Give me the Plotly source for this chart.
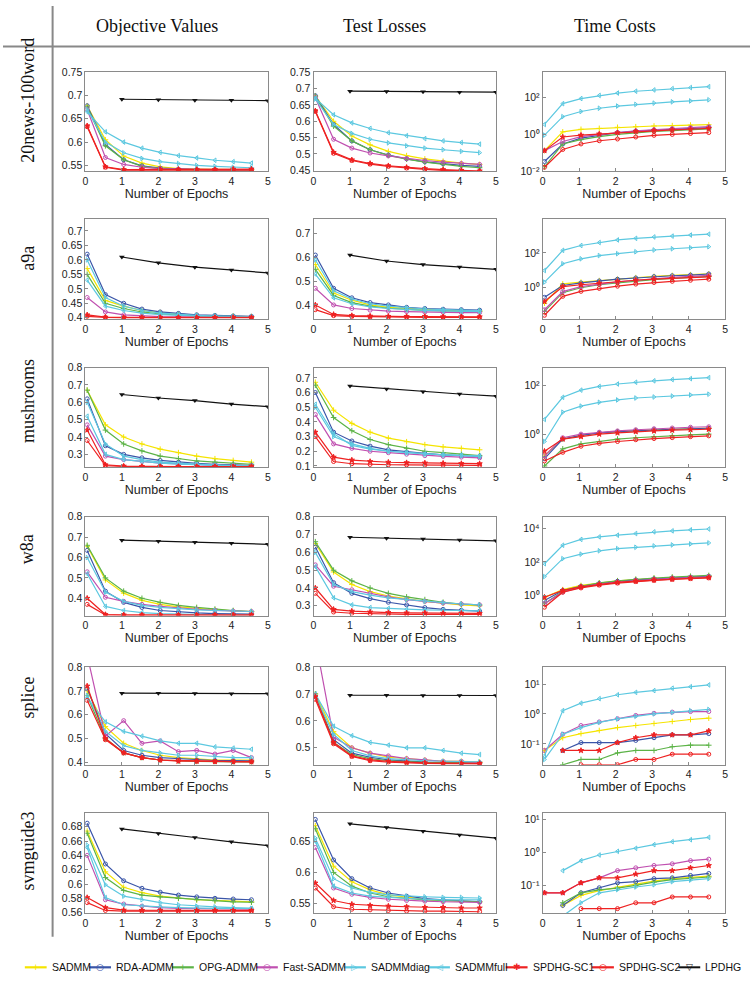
import plotly.graph_objects as go

W, H = 753, 999

# ---------------- data ----------------
epochs = [0.05, 0.55, 1.05, 1.55, 2.05, 2.55, 3.05, 3.55, 4.05, 4.55]
lp_epochs = [1, 2, 3, 4, 5]

methods = ["SADMM", "RDA-ADMM", "OPG-ADMM", "Fast-SADMM", "SADMMdiag",
           "SADMMfull", "SPDHG-SC1", "SPDHG-SC2", "LPDHG"]
colors = ["#f5e400", "#3a55a8", "#5cb347", "#c050b0", "#5cc8e0",
          "#5cc8e0", "#ee2222", "#ee2222", "#111111"]
symbols = ["cross-thin-open", "circle-open", "cross-thin-open", "circle-open",
           "triangle-right-open", "triangle-left-open", "star", "circle-open",
           "triangle-down"]
datasets = ["20news-100word", "a9a", "mushrooms", "w8a", "splice", "svmguide3"]
columns = ["Objective Values", "Test Losses", "Time Costs"]

# order of each panel list: SADMM, RDA, OPG, Fast, diag, full, SC1, SC2
obj_20news = [
    [0.678, 0.605, 0.570, 0.555, 0.547, 0.543, 0.542, 0.541, 0.541, 0.541],
    [0.678, 0.595, 0.562, 0.549, 0.544, 0.542, 0.541, 0.541, 0.541, 0.541],
    [0.675, 0.592, 0.562, 0.548, 0.543, 0.541, 0.541, 0.541, 0.541, 0.541],
    [0.670, 0.567, 0.552, 0.546, 0.543, 0.542, 0.541, 0.541, 0.541, 0.541],
    [0.670, 0.600, 0.577, 0.565, 0.558, 0.554, 0.550, 0.548, 0.546, 0.545],
    [0.665, 0.622, 0.600, 0.587, 0.578, 0.571, 0.566, 0.561, 0.558, 0.555],
    [0.635, 0.547, 0.541, 0.541, 0.541, 0.541, 0.541, 0.541, 0.542, 0.542],
    [0.633, 0.546, 0.540, 0.540, 0.540, 0.540, 0.540, 0.540, 0.540, 0.540],
]
lp_obj_20news = [0.692, 0.691, 0.690, 0.690, 0.689]
loss_20news = [
    [0.678, 0.600, 0.555, 0.528, 0.508, 0.495, 0.485, 0.478, 0.472, 0.468],
    [0.678, 0.590, 0.540, 0.513, 0.497, 0.485, 0.476, 0.470, 0.465, 0.462],
    [0.675, 0.585, 0.540, 0.513, 0.496, 0.484, 0.475, 0.468, 0.462, 0.458],
    [0.672, 0.545, 0.518, 0.503, 0.494, 0.486, 0.480, 0.475, 0.471, 0.468],
    [0.668, 0.590, 0.563, 0.545, 0.534, 0.525, 0.518, 0.513, 0.508, 0.504],
    [0.670, 0.620, 0.595, 0.578, 0.565, 0.556, 0.547, 0.540, 0.535, 0.530],
    [0.632, 0.505, 0.482, 0.471, 0.464, 0.459, 0.455, 0.452, 0.450, 0.448],
    [0.630, 0.502, 0.480, 0.469, 0.462, 0.457, 0.453, 0.450, 0.448, 0.447],
]
lp_loss_20news = [0.692, 0.691, 0.690, 0.689, 0.689]
time_20news = [
    [0.13, 1.38, 1.90, 2.14, 2.45, 2.63, 2.88, 3.02, 3.24, 3.39],
    [0.033, 0.30, 0.62, 0.91, 1.23, 1.51, 1.70, 1.91, 2.14, 2.34],
    [0.017, 0.30, 0.52, 0.76, 1.00, 1.23, 1.45, 1.62, 1.82, 2.00],
    [0.13, 0.41, 0.76, 1.00, 1.26, 1.55, 1.82, 2.09, 2.34, 2.63],
    [0.91, 9.3, 17.8, 26.9, 35.5, 43.7, 51.3, 60.3, 67.6, 77.6],
    [3.5, 48, 91, 135, 182, 229, 269, 316, 363, 407],
    [0.13, 0.72, 0.91, 1.05, 1.23, 1.45, 1.62, 1.78, 1.91, 2.14],
    [0.016, 0.15, 0.30, 0.45, 0.56, 0.72, 0.89, 1.00, 1.12, 1.26],
]

obj_a9a = [
    [0.570, 0.460, 0.440, 0.425, 0.418, 0.412, 0.408, 0.406, 0.405, 0.404],
    [0.620, 0.480, 0.450, 0.430, 0.420, 0.415, 0.410, 0.408, 0.406, 0.405],
    [0.550, 0.450, 0.432, 0.420, 0.413, 0.409, 0.406, 0.405, 0.404, 0.403],
    [0.470, 0.420, 0.410, 0.406, 0.404, 0.403, 0.402, 0.402, 0.402, 0.402],
    [0.600, 0.470, 0.440, 0.425, 0.416, 0.411, 0.408, 0.406, 0.405, 0.404],
    [0.530, 0.440, 0.425, 0.416, 0.411, 0.408, 0.406, 0.405, 0.404, 0.403],
    [0.410, 0.402, 0.401, 0.401, 0.401, 0.401, 0.401, 0.401, 0.401, 0.401],
    [0.405, 0.401, 0.400, 0.400, 0.400, 0.400, 0.400, 0.400, 0.400, 0.400],
]
lp_obj_a9a = [0.610, 0.590, 0.575, 0.565, 0.555]
loss_a9a = [
    [0.570, 0.450, 0.420, 0.400, 0.390, 0.385, 0.380, 0.378, 0.376, 0.375],
    [0.610, 0.470, 0.430, 0.410, 0.400, 0.390, 0.385, 0.382, 0.380, 0.378],
    [0.550, 0.440, 0.410, 0.395, 0.386, 0.380, 0.377, 0.375, 0.374, 0.373],
    [0.470, 0.400, 0.385, 0.378, 0.374, 0.372, 0.370, 0.369, 0.368, 0.368],
    [0.590, 0.460, 0.425, 0.405, 0.395, 0.388, 0.383, 0.380, 0.378, 0.376],
    [0.530, 0.430, 0.405, 0.392, 0.385, 0.380, 0.377, 0.375, 0.373, 0.372],
    [0.400, 0.360, 0.355, 0.353, 0.352, 0.351, 0.351, 0.350, 0.350, 0.350],
    [0.380, 0.355, 0.352, 0.350, 0.349, 0.349, 0.348, 0.348, 0.348, 0.348],
]
lp_loss_a9a = [0.610, 0.585, 0.570, 0.560, 0.550]
time_a9a = [
    [0.13, 1.66, 2.09, 2.57, 3.09, 3.80, 4.47, 5.13, 5.62, 6.31],
    [0.28, 1.35, 1.90, 2.45, 3.09, 3.63, 4.37, 4.90, 5.37, 6.17],
    [0.044, 0.52, 1.00, 1.48, 1.90, 2.45, 2.95, 3.47, 3.98, 4.47],
    [0.054, 0.60, 1.15, 1.62, 2.19, 2.69, 3.31, 3.98, 4.47, 5.13],
    [2.1, 24, 46, 71, 91, 117, 148, 174, 200, 229],
    [9.8, 141, 269, 398, 562, 692, 832, 933, 1072, 1202],
    [0.16, 1.15, 1.48, 1.82, 2.29, 2.69, 3.09, 3.47, 3.80, 4.17],
    [0.026, 0.32, 0.62, 0.91, 1.23, 1.62, 2.00, 2.34, 2.69, 3.09],
]

obj_mush = [
    [0.670, 0.470, 0.400, 0.360, 0.330, 0.310, 0.290, 0.275, 0.265, 0.255],
    [0.620, 0.350, 0.300, 0.280, 0.265, 0.255, 0.248, 0.243, 0.240, 0.237],
    [0.670, 0.440, 0.360, 0.320, 0.290, 0.275, 0.262, 0.255, 0.248, 0.243],
    [0.470, 0.290, 0.270, 0.260, 0.250, 0.245, 0.240, 0.237, 0.235, 0.233],
    [0.600, 0.360, 0.290, 0.270, 0.255, 0.248, 0.242, 0.238, 0.235, 0.233],
    [0.520, 0.300, 0.270, 0.258, 0.250, 0.244, 0.240, 0.237, 0.235, 0.233],
    [0.440, 0.240, 0.232, 0.230, 0.230, 0.230, 0.230, 0.230, 0.230, 0.230],
    [0.380, 0.235, 0.230, 0.229, 0.229, 0.229, 0.229, 0.229, 0.229, 0.229],
]
lp_obj_mush = [0.645, 0.625, 0.610, 0.590, 0.575]
loss_mush = [
    [0.670, 0.480, 0.390, 0.330, 0.290, 0.265, 0.245, 0.230, 0.220, 0.210],
    [0.600, 0.330, 0.270, 0.235, 0.210, 0.195, 0.185, 0.175, 0.170, 0.165],
    [0.650, 0.430, 0.340, 0.280, 0.245, 0.220, 0.200, 0.190, 0.180, 0.170],
    [0.450, 0.250, 0.220, 0.200, 0.190, 0.180, 0.170, 0.165, 0.160, 0.155],
    [0.500, 0.300, 0.250, 0.220, 0.200, 0.190, 0.180, 0.175, 0.170, 0.165],
    [0.520, 0.320, 0.240, 0.215, 0.200, 0.190, 0.182, 0.176, 0.172, 0.168],
    [0.330, 0.160, 0.140, 0.130, 0.125, 0.122, 0.120, 0.118, 0.116, 0.115],
    [0.300, 0.130, 0.115, 0.110, 0.108, 0.107, 0.106, 0.105, 0.105, 0.104],
]
lp_loss_mush = [0.645, 0.625, 0.605, 0.590, 0.575]
time_mush = [
    [0.13, 0.63, 0.89, 1.12, 1.26, 1.41, 1.51, 1.58, 1.70, 1.78],
    [0.10, 0.63, 0.89, 1.12, 1.26, 1.38, 1.51, 1.58, 1.66, 1.74],
    [0.05, 0.25, 0.40, 0.50, 0.63, 0.71, 0.79, 0.87, 0.93, 1.00],
    [0.13, 0.71, 1.00, 1.20, 1.35, 1.51, 1.66, 1.78, 1.91, 2.00],
    [0.50, 7.9, 14, 20, 25, 30, 33, 36, 40, 43],
    [4.0, 32, 63, 89, 112, 132, 151, 170, 186, 204],
    [0.20, 0.63, 0.79, 1.00, 1.12, 1.26, 1.35, 1.45, 1.51, 1.58],
    [0.08, 0.18, 0.32, 0.42, 0.50, 0.59, 0.66, 0.72, 0.79, 0.85],
]

obj_w8a = [
    [0.655, 0.490, 0.425, 0.390, 0.370, 0.358, 0.350, 0.343, 0.338, 0.334],
    [0.635, 0.435, 0.380, 0.355, 0.340, 0.333, 0.328, 0.325, 0.323, 0.322],
    [0.660, 0.500, 0.435, 0.400, 0.380, 0.365, 0.355, 0.347, 0.340, 0.335],
    [0.530, 0.405, 0.385, 0.370, 0.360, 0.352, 0.346, 0.341, 0.337, 0.335],
    [0.600, 0.430, 0.385, 0.365, 0.355, 0.348, 0.343, 0.340, 0.337, 0.335],
    [0.520, 0.360, 0.340, 0.330, 0.325, 0.322, 0.320, 0.319, 0.318, 0.318],
    [0.400, 0.320, 0.318, 0.318, 0.318, 0.318, 0.318, 0.318, 0.318, 0.318],
    [0.370, 0.318, 0.317, 0.317, 0.317, 0.317, 0.317, 0.317, 0.317, 0.317],
]
lp_obj_w8a = [0.685, 0.680, 0.675, 0.670, 0.665]
loss_w8a = [
    [0.650, 0.490, 0.420, 0.380, 0.355, 0.340, 0.325, 0.315, 0.305, 0.300],
    [0.630, 0.430, 0.370, 0.340, 0.320, 0.305, 0.290, 0.280, 0.275, 0.270],
    [0.660, 0.500, 0.440, 0.400, 0.370, 0.350, 0.335, 0.320, 0.310, 0.305],
    [0.530, 0.410, 0.390, 0.370, 0.350, 0.335, 0.325, 0.315, 0.310, 0.305],
    [0.600, 0.420, 0.380, 0.360, 0.345, 0.335, 0.325, 0.318, 0.310, 0.305],
    [0.520, 0.345, 0.305, 0.290, 0.285, 0.280, 0.277, 0.275, 0.273, 0.272],
    [0.400, 0.280, 0.270, 0.265, 0.262, 0.260, 0.260, 0.258, 0.258, 0.257],
    [0.370, 0.265, 0.258, 0.255, 0.253, 0.252, 0.252, 0.251, 0.251, 0.251],
]
lp_loss_w8a = [0.685, 0.680, 0.675, 0.670, 0.665]
time_w8a = [
    [0.79, 2.24, 3.98, 5.62, 7.59, 8.91, 10.5, 12.0, 13.2, 14.5],
    [0.50, 2.00, 3.55, 5.25, 7.08, 8.51, 10.0, 11.2, 12.6, 14.1],
    [0.32, 1.78, 3.55, 5.62, 7.59, 9.33, 11.0, 12.6, 14.1, 15.8],
    [0.32, 1.58, 3.16, 4.79, 6.31, 7.94, 9.33, 10.7, 12.0, 13.2],
    [13.5, 158, 295, 468, 631, 759, 912, 1047, 1202, 1380],
    [79, 1000, 2239, 3162, 3981, 5012, 6310, 7244, 8318, 9333],
    [0.79, 2.00, 3.31, 4.57, 6.03, 7.24, 8.51, 9.55, 10.7, 11.7],
    [0.20, 1.58, 2.82, 4.17, 5.50, 6.76, 7.94, 9.12, 10.2, 11.2],
]

obj_splice = [
    [0.700, 0.550, 0.480, 0.450, 0.430, 0.420, 0.415, 0.410, 0.410, 0.410],
    [0.710, 0.520, 0.450, 0.430, 0.420, 0.415, 0.410, 0.408, 0.407, 0.406],
    [0.680, 0.500, 0.440, 0.420, 0.410, 0.406, 0.404, 0.403, 0.402, 0.402],
    [0.850, 0.510, 0.575, 0.480, 0.490, 0.445, 0.450, 0.435, 0.450, 0.420],
    [0.680, 0.530, 0.470, 0.450, 0.440, 0.430, 0.430, 0.425, 0.420, 0.420],
    [0.670, 0.570, 0.530, 0.510, 0.490, 0.480, 0.480, 0.465, 0.460, 0.455],
    [0.720, 0.500, 0.440, 0.420, 0.410, 0.405, 0.405, 0.403, 0.402, 0.402],
    [0.660, 0.495, 0.440, 0.420, 0.410, 0.408, 0.405, 0.404, 0.403, 0.403],
]
lp_obj_splice = [0.690, 0.690, 0.689, 0.688, 0.688]
loss_splice = [
    [0.700, 0.560, 0.500, 0.480, 0.465, 0.460, 0.455, 0.450, 0.450, 0.448],
    [0.690, 0.530, 0.480, 0.465, 0.455, 0.450, 0.447, 0.445, 0.444, 0.443],
    [0.700, 0.520, 0.475, 0.460, 0.452, 0.448, 0.446, 0.445, 0.444, 0.443],
    [0.900, 0.540, 0.500, 0.480, 0.470, 0.460, 0.455, 0.450, 0.450, 0.445],
    [0.690, 0.550, 0.490, 0.470, 0.460, 0.455, 0.452, 0.450, 0.449, 0.448],
    [0.700, 0.580, 0.545, 0.520, 0.510, 0.500, 0.500, 0.490, 0.480, 0.475],
    [0.690, 0.520, 0.470, 0.455, 0.450, 0.446, 0.444, 0.443, 0.442, 0.442],
    [0.680, 0.515, 0.468, 0.452, 0.447, 0.444, 0.442, 0.441, 0.441, 0.440],
]
lp_loss_splice = [0.695, 0.695, 0.694, 0.694, 0.694]
time_splice = [
    [0.06, 0.16, 0.22, 0.28, 0.35, 0.41, 0.48, 0.56, 0.65, 0.72],
    [None, 0.06, 0.11, 0.11, 0.11, 0.13, 0.16, 0.20, 0.20, 0.22],
    [None, 0.02, 0.03, 0.03, 0.05, 0.06, 0.06, 0.08, 0.09, 0.09],
    [0.06, 0.21, 0.41, 0.54, 0.69, 0.89, 1.05, 1.15, 1.20, 1.20],
    [0.03, 0.21, 0.35, 0.52, 0.68, 0.83, 1.00, 1.12, 1.29, 1.41],
    [0.04, 1.29, 2.29, 3.24, 4.37, 5.25, 6.03, 7.24, 8.13, 9.33],
    [None, 0.06, 0.06, 0.06, 0.11, 0.16, 0.20, 0.20, 0.20, 0.27],
    [None, None, 0.02, 0.02, 0.02, 0.03, 0.03, 0.045, 0.045, 0.045],
]

obj_svm = [
    [0.674, 0.617, 0.5955, 0.588, 0.583, 0.580, 0.578, 0.577, 0.576, 0.575],
    [0.685, 0.628, 0.6045, 0.594, 0.5886, 0.5845, 0.582, 0.580, 0.579, 0.578],
    [0.671, 0.609, 0.591, 0.5845, 0.582, 0.580, 0.578, 0.5765, 0.575, 0.5745],
    [0.640, 0.578, 0.572, 0.569, 0.567, 0.566, 0.5655, 0.565, 0.565, 0.565],
    [0.6545, 0.599, 0.583, 0.578, 0.574, 0.571, 0.569, 0.568, 0.567, 0.566],
    [0.651, 0.581, 0.571, 0.569, 0.568, 0.567, 0.566, 0.566, 0.566, 0.566],
    [0.581, 0.567, 0.5635, 0.5632, 0.563, 0.563, 0.563, 0.563, 0.563, 0.563],
    [0.574, 0.563, 0.562, 0.562, 0.562, 0.562, 0.562, 0.562, 0.562, 0.562],
]
lp_obj_svm = [0.677, 0.6705, 0.665, 0.659, 0.6536]
loss_svm = [
    [0.675, 0.610, 0.585, 0.572, 0.564, 0.560, 0.557, 0.555, 0.554, 0.553],
    [0.685, 0.620, 0.590, 0.575, 0.567, 0.562, 0.558, 0.556, 0.554, 0.553],
    [0.670, 0.600, 0.578, 0.567, 0.561, 0.558, 0.556, 0.555, 0.554, 0.553],
    [0.640, 0.575, 0.565, 0.560, 0.557, 0.555, 0.554, 0.553, 0.553, 0.552],
    [0.655, 0.590, 0.575, 0.568, 0.564, 0.562, 0.561, 0.560, 0.560, 0.559],
    [0.650, 0.578, 0.567, 0.562, 0.560, 0.558, 0.557, 0.556, 0.556, 0.556],
    [0.583, 0.555, 0.549, 0.547, 0.546, 0.545, 0.544, 0.544, 0.543, 0.543],
    [0.575, 0.545, 0.541, 0.540, 0.539, 0.538, 0.538, 0.538, 0.537, 0.537],
]
lp_loss_svm = [0.678, 0.672, 0.666, 0.660, 0.655]
time_svm = [
    [None, 0.025, 0.05, 0.07, 0.09, 0.11, 0.135, 0.16, 0.175, 0.19],
    [None, 0.025, 0.06, 0.085, 0.12, 0.13, 0.16, 0.17, 0.20, 0.23],
    [None, 0.03, 0.06, 0.074, 0.083, 0.10, 0.126, 0.15, 0.166, 0.18],
    [0.06, 0.06, 0.12, 0.17, 0.28, 0.34, 0.40, 0.45, 0.56, 0.62],
    [None, 0.012, 0.03, 0.06, 0.075, 0.09, 0.105, 0.13, 0.145, 0.16],
    [None, 0.28, 0.56, 0.83, 1.07, 1.32, 1.70, 2.09, 2.40, 2.82],
    [0.06, 0.06, 0.12, 0.17, 0.17, 0.22, 0.28, 0.28, 0.34, 0.40],
    [None, None, 0.02, 0.02, 0.02, 0.03, 0.03, 0.045, 0.045, 0.045],
]

# per-row panels: (objective, lpdhg objective, loss, lpdhg loss, time)
rows = [
    (obj_20news, lp_obj_20news, loss_20news, lp_loss_20news, time_20news),
    (obj_a9a, lp_obj_a9a, loss_a9a, lp_loss_a9a, time_a9a),
    (obj_mush, lp_obj_mush, loss_mush, lp_loss_mush, time_mush),
    (obj_w8a, lp_obj_w8a, loss_w8a, lp_loss_w8a, time_w8a),
    (obj_splice, lp_obj_splice, loss_splice, lp_loss_splice, time_splice),
    (obj_svm, lp_obj_svm, loss_svm, lp_loss_svm, time_svm),
]

# axis settings (y ranges; log ranges in decades)
y_ranges = [
    ([0.538, 0.75], 0.05, [0.448, 0.75], 0.05, [-2, 3.4], [0.01, 1, 100]),
    ([0.395, 0.74], 0.05, [0.34, 0.76], 0.1, [-1.81, 3.93], [1, 100]),
    ([0.225, 0.8], 0.1, [0.09, 0.77], 0.1, [-1.36, 2.72], [1, 100]),
    ([0.315, 0.8], 0.1, [0.245, 0.8], 0.1, [-1.2, 4.7], [1, 100, 10000]),
    ([0.39, 0.8], 0.1, [0.437, 0.8], 0.1, [-1.7, 1.57], [0.1, 1, 10]),
    ([0.5595, 0.699], 0.02, [0.535, 0.695], 0.05, [-1.83, 1.18], [0.1, 1, 10]),
]
pow_text = {0.01: "10\u207b\u00b2", 0.1: "10\u207b\u00b9", 1: "10\u2070",
            10: "10\u00b9", 100: "10\u00b2", 10000: "10\u2074"}

# ---------------- layout geometry (pixels) ----------------
col_px = [(83, 267), (313, 497), (544, 728)]
row_px = [(67, 167), (216, 317), (366, 467), (517, 617), (669, 768), (817, 918)]

fig = go.Figure()
layout = {}
SANS = "Liberation Sans, Arial, sans-serif"
TICKFONT = dict(family=SANS, size=10.5, color="#222")
AXCOL = "#8a8a8a"

for r in range(6):
    obj, lp_obj, loss, lp_loss, tcost = rows[r]
    yr = y_ranges[r]
    for c in range(3):
        idx = r * 3 + c + 1
        sfx = "" if idx == 1 else str(idx)
        xname, yname = "x" + sfx, "y" + sfx
        x0, x1 = col_px[c]
        t0, t1 = row_px[r]
        xa = dict(domain=[x0 / W, x1 / W], anchor=yname, range=[0, 5],
                  tickvals=[0, 1, 2, 3, 4, 5], showline=True, mirror=True,
                  linecolor=AXCOL, linewidth=1, ticks="inside", ticklen=3,
                  tickcolor=AXCOL, showgrid=False, zeroline=False,
                  tickfont=TICKFONT,
                  title=dict(text="Number of Epochs", standoff=2,
                             font=dict(family=SANS, size=12.5, color="#222")))
        ya = dict(domain=[1 - t1 / H, 1 - t0 / H], anchor=xname,
                  showline=True, mirror=True, linecolor=AXCOL, linewidth=1,
                  ticks="inside", ticklen=3, tickcolor=AXCOL, showgrid=False,
                  zeroline=False, tickfont=TICKFONT)
        if c == 0:
            ya.update(range=yr[0], dtick=yr[1], tick0=0)
            series, lp = obj, lp_obj
        elif c == 1:
            ya.update(range=yr[2], dtick=yr[3], tick0=0)
            series, lp = loss, lp_loss
        else:
            ya.update(type="log", range=yr[4], tickvals=yr[5],
                      ticktext=[pow_text[v] for v in yr[5]])
            series, lp = tcost, None
        layout["xaxis" + sfx] = xa
        layout["yaxis" + sfx] = ya
        for k, vals in enumerate(series):
            fig.add_trace(go.Scatter(
                x=epochs, y=vals, mode="lines+markers", name=methods[k],
                xaxis=xname, yaxis=yname, showlegend=False,
                line=dict(color=colors[k], width=1.2),
                marker=dict(symbol=symbols[k], size=4, color=colors[k],
                            line=dict(color=colors[k], width=1))))
        if lp is not None:
            fig.add_trace(go.Scatter(
                x=lp_epochs, y=lp, mode="lines+markers", name=methods[8],
                xaxis=xname, yaxis=yname, showlegend=False,
                line=dict(color=colors[8], width=1.2),
                marker=dict(symbol=symbols[8], size=5, color=colors[8])))

# ---------------- headers, separators ----------------
annotations = []
shapes = []
header_x = [155, 385, 617]
for c, name in enumerate(columns):
    annotations.append(dict(text=name, x=header_x[c] / W, y=1 - 20 / H,
                            xanchor="center", yanchor="middle",
                            xref="paper", yref="paper", showarrow=False,
                            font=dict(family="Liberation Serif, serif", size=18, color="#111")))
row_label_y = [95, 255, 400, 550, 700, 855]
for r, name in enumerate(datasets):
    annotations.append(dict(text=name, x=25 / W, y=1 - row_label_y[r] / H,
                            xanchor="center", yanchor="middle",
                            xref="paper", yref="paper", showarrow=False, textangle=-90,
                            font=dict(family="Liberation Serif, serif", size=18, color="#111")))
shapes.append(dict(type="line", xref="paper", yref="paper",
                   x0=50 / W, x1=50 / W, y0=1 - 942 / H, y1=1.0,
                   line=dict(color="#888", width=2)))
shapes.append(dict(type="line", xref="paper", yref="paper",
                   x0=0, x1=1, y0=1 - 41 / H, y1=1 - 41 / H,
                   line=dict(color="#888", width=2)))

# ---------------- legend (one row, bottom) ----------------
ARIAL_W = {"S": 667, "A": 667, "D": 722, "M": 833, "R": 722, "-": 333, "O": 778,
           "P": 667, "G": 778, "F": 611, "a": 556, "s": 500, "t": 278, "d": 556,
           "i": 222, "g": 556, "f": 278, "u": 556, "l": 222, "H": 722, "C": 722,
           "1": 556, "2": 556, "L": 556}
LEG_FS = 10.5
text_w = [sum(ARIAL_W[ch] for ch in m) * LEG_FS / 1000 for m in methods]
LINE_LEN, LINE_GAP, START, END = 22, 3, 22, 742
gap = (END - START - len(methods) * (LINE_LEN + LINE_GAP) - sum(text_w)) / (len(methods) - 1)
leg_marks = ["+", "○", "+", "○", "▷", "◁", "✱", "○", "▽"]
ly = 1 - 973 / H
cursor = START
for k, name in enumerate(methods):
    lx0 = cursor
    shapes.append(dict(type="line", xref="paper", yref="paper",
                       x0=lx0 / W, x1=(lx0 + LINE_LEN) / W, y0=ly, y1=ly,
                       line=dict(color=colors[k], width=2.2 if k < 8 else 2)))
    annotations.append(dict(text=leg_marks[k], x=(lx0 + LINE_LEN / 2) / W, y=ly,
                            xanchor="center", yanchor="middle",
                            xref="paper", yref="paper", showarrow=False,
                            font=dict(family="DejaVu Sans", size=9, color=colors[k])))
    annotations.append(dict(text=name, x=(lx0 + LINE_LEN + LINE_GAP) / W, y=ly,
                            xanchor="left", yanchor="middle",
                            xref="paper", yref="paper", showarrow=False,
                            font=dict(family=SANS, size=LEG_FS, color="#111")))
    cursor = lx0 + LINE_LEN + LINE_GAP + text_w[k] + gap

fig.update_layout(width=W, height=H, margin=dict(l=0, r=0, t=0, b=0),
                  paper_bgcolor="white", plot_bgcolor="white",
                  annotations=annotations, shapes=shapes, **layout)
fig.write_html("out.html", config={"displayModeBar": False},
               post_script="document.body.style.margin='0px';"
                           "document.body.style.overflow='hidden';")
